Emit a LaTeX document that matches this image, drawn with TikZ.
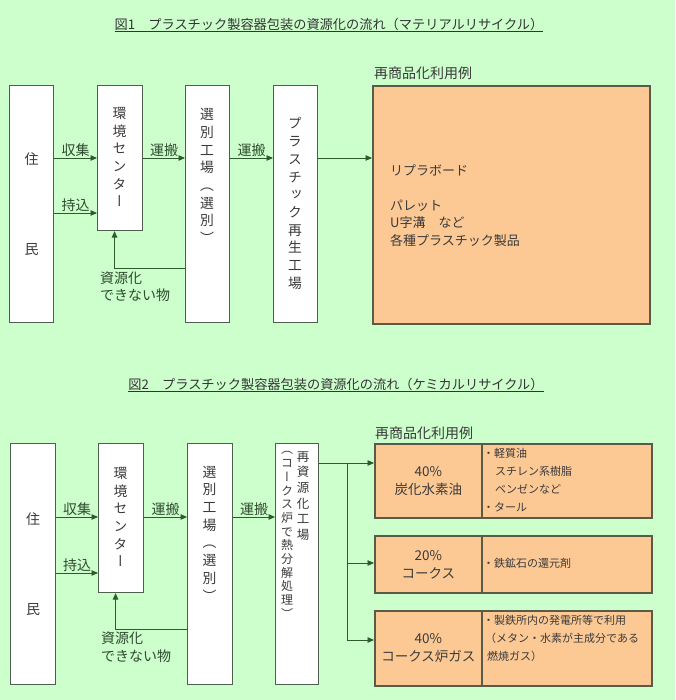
\documentclass[tikz,border=0pt]{standalone}
\usepackage{fontspec}
\setmainfont{Noto Sans CJK JP}
\newfontfamily\vjp[RawFeature=+vert]{Noto Sans CJK JP}
\usetikzlibrary{arrows.meta}
\definecolor{bg}{HTML}{CCFFCC}
\definecolor{ln}{HTML}{2E5A2E}
\definecolor{bd}{HTML}{4F5F4F}
\definecolor{tx}{HTML}{3A3A3A}
\definecolor{lb}{HTML}{2F4A2F}
\definecolor{org}{HTML}{FCC995}
\definecolor{obd}{HTML}{5A5A48}
\begin{document}
\begin{tikzpicture}[x=1pt,y=-1pt,
  box/.style={draw=bd,line width=1.1pt,fill=white,anchor=north west,inner sep=0pt},
  obox/.style={draw=obd,line width=1.6pt,fill=org,anchor=north west,inner sep=0pt},
  vtext/.style={font=\vjp\fontsize{13.8}{17.7}\selectfont,text=tx,align=center,inner sep=0pt},
  btext/.style={font=\fontsize{14}{17}\selectfont,text=tx,align=center},
  otext/.style={font=\fontsize{13.5}{18}\selectfont,text=tx,align=center,inner sep=0pt},
  stext/.style={font=\fontsize{11}{18}\selectfont,text=tx,align=left,inner sep=0pt,anchor=west},
  conn/.style={draw=ln,line width=0.9pt},
  arr/.style={conn,-{Triangle[length=6.5pt,width=5.5pt]}},
  lab/.style={font=\fontsize{14}{17}\selectfont,text=lb,inner sep=0.5pt,anchor=south},
  ttl/.style={font=\fontsize{13.2}{16}\selectfont,text=tx!90!black},
  note/.style={font=\fontsize{14}{17}\selectfont,text=lb,align=left,anchor=north west,inner sep=0pt},
]
\fill[bg] (0,0) rectangle (675,700);
\useasboundingbox (0,0) rectangle (675,700);

% ---------- Figure 1 ----------
\node[ttl] (title1) at (329,25) {\underline{図1　プラスチック製容器包装の資源化の流れ（マテリアルリサイクル）}};

\node[box,minimum width=44pt,minimum height=237pt,btext] (jumin1) at (9,85) {住\\[73pt]民};
\node[box,minimum width=45pt,minimum height=145pt] (kan1) at (97,85) {};
\node[box,minimum width=44pt,minimum height=237pt] (sen1) at (185,85) {};
\node[box,minimum width=44pt,minimum height=237pt] (pla1) at (273,85) {};
\node[obox,minimum width=277pt,minimum height=238pt] (big1) at (372,85) {};

\node[vtext] (tkan1) at (119.5,157) {環\\境\\セ\\ン\\タ\\ー};
\node[vtext] (tsen1) at (207,176) {選\\別\\工\\場\\（\\選\\別\\）};
\node[vtext] (tpla1) at (295,203.5) {プ\\ラ\\ス\\チ\\ッ\\ク\\再\\生\\工\\場};

\node[font=\fontsize{14}{17}\selectfont,text=tx,anchor=west,inner sep=0pt] (lbl1) at (374,73) {再商品化利用例};
\node[font=\fontsize{13}{17.5}\selectfont,text=tx,align=left,anchor=west,inner sep=0pt] (list1) at (390,205.5) {リプラボード\\ \\パレット\\U字溝　など\\各種プラスチック製品};

\coordinate (r1) at (0,158);
\coordinate (r2) at (0,213);
\coordinate (fb1) at (0,268);

\draw[arr] (jumin1.east |- r1) -- node[lab] (ls1) {収集} (kan1.west |- r1);
\draw[arr] (jumin1.east |- r2) -- node[lab] (lm1) {持込} (kan1.west |- r2);
\draw[arr] (kan1.east |- r1) -- node[lab] (lu1) {運搬} (sen1.west |- r1);
\draw[arr] (sen1.east |- r1) -- node[lab] (lu2) {運搬} (pla1.west |- r1);
\draw[arr] (pla1.east |- r1) -- (big1.west |- r1);
\draw[arr] (sen1.west |- fb1) -| ([xshift=-5.5pt]kan1.south);
\node[note] (nr1) at (100,272) {資源化\\できない物};

% ---------- Figure 2 ----------
\node[ttl] (title2) at (336,385) {\underline{図2　プラスチック製容器包装の資源化の流れ（ケミカルリサイクル）}};

\node[box,minimum width=45pt,minimum height=241pt,btext] (jumin2) at (10,443) {住\\[73pt]民};
\node[box,minimum width=45pt,minimum height=149pt] (kan2) at (98,443) {};
\node[box,minimum width=45pt,minimum height=241pt] (sen2) at (187,443) {};
\node[box,minimum width=43pt,minimum height=241pt] (sai2) at (275,443) {};

\node[vtext] (tkan2) at (120.5,517) {環\\境\\セ\\ン\\タ\\ー};
\node[vtext] (tsen2) at (209.5,533.5) {選\\別\\工\\場\\（\\選\\別\\）};
\node[vtext,font=\vjp\fontsize{12.5}{15.6}\selectfont] (tsai2a) at (303,496) {再\\資\\源\\化\\工\\場};
\node[vtext,font=\vjp\fontsize{12}{13.7}\selectfont] (tsai2b) at (287,535) {（\\コ\\ー\\ク\\ス\\炉\\で\\熱\\分\\解\\処\\理\\）};

\node[font=\fontsize{14}{17}\selectfont,text=tx,anchor=west,inner sep=0pt] (lbl2) at (375,433) {再商品化利用例};

\node[obox,minimum width=107pt,minimum height=74pt,otext] (p1l) at (374,443) {40\%\\炭化水素油};
\node[obox,minimum width=170pt,minimum height=74pt] (p1r) at (481,443) {};
\node[obox,minimum width=107pt,minimum height=57pt,otext] (p2l) at (374,535) {20\%\\コークス};
\node[obox,minimum width=170pt,minimum height=57pt] (p2r) at (481,535) {};
\node[obox,minimum width=107pt,minimum height=75pt,otext] (p3l) at (374,610) {40\%\\コークス炉ガス};
\node[obox,minimum width=170pt,minimum height=75pt] (p3r) at (481,610) {};

\node[stext] (s1) at (483,480) {・軽質油\\\hspace*{12pt}スチレン系樹脂\\\hspace*{12pt}ベンゼンなど\\・タール};
\node[stext] (s2) at (483,563) {・鉄鉱石の還元剤};
\node[stext] (s3) at (483,638.5) {・製鉄所内の発電所等で利用\\\hspace*{2pt}（メタン・水素が主成分である\\\hspace*{4pt}燃焼ガス）};

\coordinate (q1) at (0,517);
\coordinate (q2) at (0,573);
\coordinate (fb2) at (0,629);
\coordinate (d1) at (0,463);
\coordinate (d2) at (0,563);
\coordinate (d3) at (0,640);
\coordinate (bx) at (347,0);

\draw[arr] (jumin2.east |- q1) -- node[lab] (ls2) {収集} (kan2.west |- q1);
\draw[arr] (jumin2.east |- q2) -- node[lab] (lm2) {持込} (kan2.west |- q2);
\draw[arr] (kan2.east |- q1) -- node[lab] (lu3) {運搬} (sen2.west |- q1);
\draw[arr] (sen2.east |- q1) -- node[lab] (lu4) {運搬} (sai2.west |- q1);
\draw[arr] (sen2.west |- fb2) -| ([xshift=-5.5pt]kan2.south);
\node[note,font=\fontsize{14}{18}\selectfont] (nr2) at (101,632) {資源化\\できない物};

\draw[arr] (sai2.east |- d1) -- (p1l.west |- d1);
\draw[conn] (bx |- d1) -- (bx |- d3);
\draw[arr] (bx |- d2) -- (p2l.west |- d2);
\draw[arr] (bx |- d3) -- (p3l.west |- d3);
\end{tikzpicture}
\end{document}
